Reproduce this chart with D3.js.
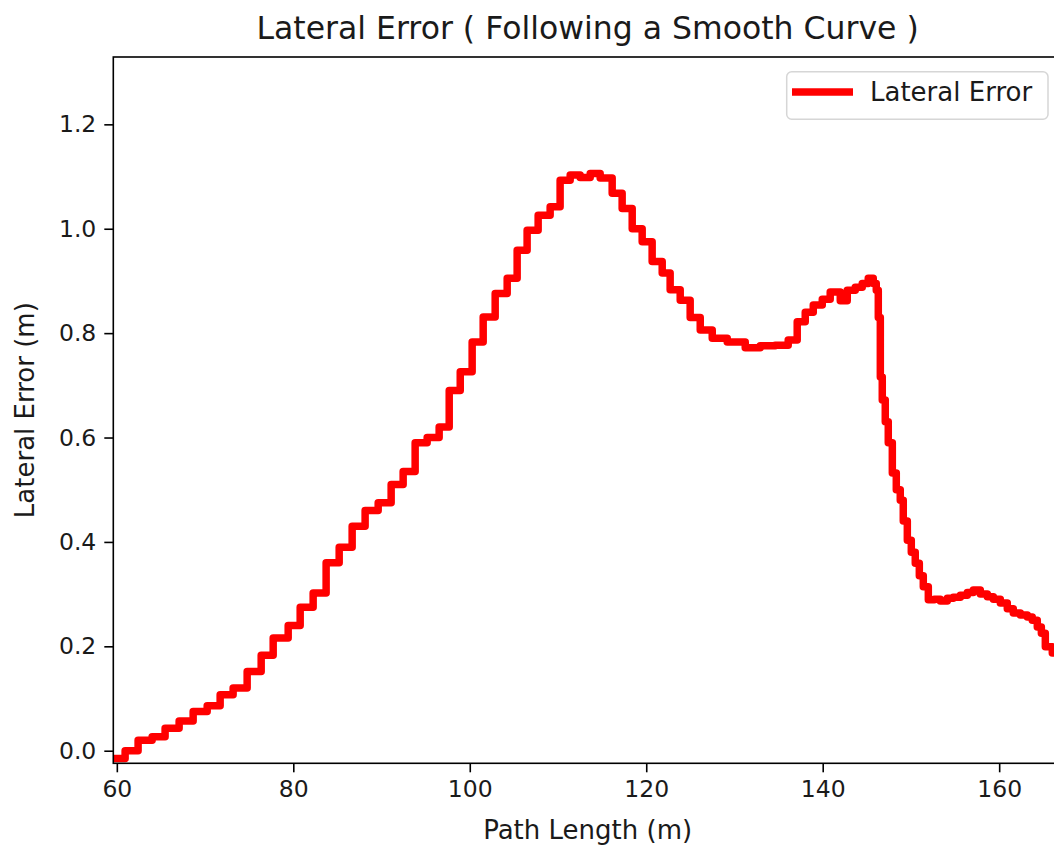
<!DOCTYPE html>
<html>
<head>
<meta charset="utf-8">
<script src="https://cdn.jsdelivr.net/npm/d3@7"></script>
<style>
  body { margin: 0; background: #fff; overflow: hidden; }
  text { font-family: "DejaVu Sans", sans-serif; fill: #1a1a1a; }
</style>
</head>
<body>
<div id="chart"></div>
<script>
// step corners (path length in m, lateral error in m)
const pathLength = [
  59.6, 60.94, 62.41, 64.0, 65.47, 67.06, 68.65, 70.24, 71.71, 73.18,
  74.77, 76.36, 77.72, 79.42, 80.78, 82.25, 83.72, 85.2, 86.67, 88.14,
  89.62, 91.09, 92.45, 93.81, 95.17, 96.53, 97.67, 98.92, 100.27, 101.52,
  102.88, 104.24, 105.37, 106.5, 107.75, 109.11, 110.24, 111.38, 112.51, 113.65,
  114.78, 116.14, 117.27, 118.41, 119.54, 120.67, 121.81, 122.71, 123.85, 124.98,
  126.12, 127.48, 129.18, 131.22, 132.92, 134.62, 136.09, 137.11, 138.02, 138.93,
  139.95, 140.85, 141.99, 142.78, 143.69, 144.48, 145.16, 145.73, 146.07, 146.3,
  146.53, 146.75, 147.09, 147.43, 147.89, 148.34, 148.79, 149.13, 149.59, 150.04,
  150.49, 150.95, 151.4, 151.97, 152.65, 153.33, 154.12, 154.8, 155.6, 156.39,
  157.07, 157.86, 158.66, 159.34, 160.13, 160.92, 161.6, 162.4, 163.19, 163.75,
  164.32, 164.78, 165.23, 166.02, 166.93
];
const lateralError = [
  -0.015, 0.0, 0.02, 0.027, 0.043, 0.057, 0.075, 0.086, 0.107, 0.12,
  0.152, 0.183, 0.216, 0.24, 0.275, 0.302, 0.36, 0.39, 0.43, 0.46,
  0.475, 0.51, 0.535, 0.59, 0.6, 0.62, 0.69, 0.726, 0.783, 0.831,
  0.876, 0.905, 0.959, 0.997, 1.026, 1.042, 1.093, 1.103, 1.098, 1.106,
  1.097, 1.068, 1.039, 1.0, 0.975, 0.937, 0.915, 0.883, 0.863, 0.83,
  0.806, 0.79, 0.783, 0.772, 0.776, 0.777, 0.787, 0.822, 0.84, 0.854,
  0.865, 0.879, 0.862, 0.882, 0.888, 0.895, 0.905, 0.895, 0.882, 0.83,
  0.716, 0.672, 0.63, 0.59, 0.532, 0.5, 0.48, 0.44, 0.403, 0.38,
  0.359, 0.335, 0.314, 0.289, 0.29, 0.287, 0.292, 0.294, 0.298, 0.303,
  0.308, 0.3, 0.295, 0.29, 0.283, 0.272, 0.264, 0.26, 0.256, 0.25,
  0.237, 0.225, 0.199, 0.187, 0.185
];
const xTicks = [60, 80, 100, 120, 140, 160];
const yTicks = [0.0, 0.2, 0.4, 0.6, 0.8, 1.0, 1.2];

const data = pathLength.map((x, i) => ({ x: x, y: lateralError[i] }));

const width = 1054, height = 850;
const plotL = 113.3, plotR = 1062, plotT = 57, plotB = 763.3;

const svg = d3.select("#chart")
  .append("svg")
  .attr("width", width)
  .attr("height", height);

const x = d3.scaleLinear().domain([59.6, 167.12]).range([plotL, plotR]);
const y = d3.scaleLinear().domain([-0.0241, 1.329]).range([plotB, plotT]);

// clip the curve to the axes box
svg.append("clipPath").attr("id", "clip")
  .append("rect")
  .attr("x", plotL).attr("y", plotT)
  .attr("width", plotR - plotL).attr("height", plotB - plotT);

const line = d3.line()
  .x(d => x(d.x))
  .y(d => y(d.y))
  .curve(d3.curveStepAfter);

svg.append("path")
  .datum(data)
  .attr("clip-path", "url(#clip)")
  .attr("d", line)
  .attr("fill", "none")
  .attr("stroke", "#ff0000")
  .attr("stroke-width", 7.5)
  .attr("stroke-linejoin", "round")
  .attr("stroke-linecap", "square");

// axes
const xAxis = svg.append("g")
  .attr("transform", `translate(0,${plotB})`)
  .call(d3.axisBottom(x).tickValues(xTicks).tickSize(9).tickPadding(8).tickFormat(d3.format("d")));

const yAxis = svg.append("g")
  .attr("transform", `translate(${plotL},0)`)
  .call(d3.axisLeft(y).tickValues(yTicks).tickSize(9).tickPadding(8).tickFormat(d3.format(".1f")));

[xAxis, yAxis].forEach(g => {
  g.select(".domain").remove();
  g.selectAll(".tick line").attr("stroke", "#000").attr("stroke-width", 1.6);
  g.selectAll(".tick text").attr("font-size", 23.5).style("font-family", "DejaVu Sans");
});

// spines (right one falls outside the picture)
svg.append("rect")
  .attr("x", plotL).attr("y", plotT)
  .attr("width", plotR - plotL).attr("height", plotB - plotT)
  .attr("fill", "none")
  .attr("stroke", "#000")
  .attr("stroke-width", 1.6);

// title and labels
svg.append("text")
  .attr("x", (plotL + plotR) / 2)
  .attr("y", 39)
  .attr("text-anchor", "middle")
  .attr("font-size", 31.5)
  .text("Lateral Error ( Following a Smooth Curve )");

svg.append("text")
  .attr("x", (plotL + plotR) / 2)
  .attr("y", 839)
  .attr("text-anchor", "middle")
  .attr("font-size", 26)
  .text("Path Length (m)");

svg.append("text")
  .attr("transform", `translate(34,${(plotT + plotB) / 2}) rotate(-90)`)
  .attr("text-anchor", "middle")
  .attr("font-size", 26)
  .text("Lateral Error (m)");

// legend
const legend = svg.append("g");
legend.append("rect")
  .attr("x", 786.7).attr("y", 71.7)
  .attr("width", 261.3).attr("height", 47.6)
  .attr("rx", 5)
  .attr("fill", "#fff")
  .attr("fill-opacity", 0.8)
  .attr("stroke", "#d6d6d6")
  .attr("stroke-width", 1.5);
legend.append("line")
  .attr("x1", 792).attr("x2", 853)
  .attr("y1", 92).attr("y2", 92)
  .attr("stroke", "#ff0000")
  .attr("stroke-width", 7.5);
legend.append("text")
  .attr("x", 870)
  .attr("y", 101)
  .attr("font-size", 26)
  .text("Lateral Error");
</script>
</body>
</html>
